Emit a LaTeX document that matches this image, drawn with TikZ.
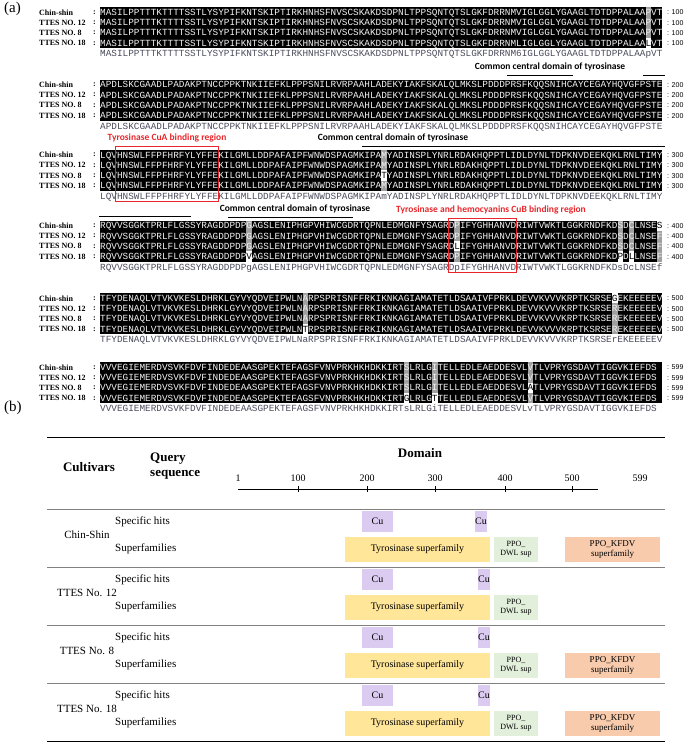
\documentclass[tikz,border=0pt]{standalone}
\usepackage{fontspec}
\setmainfont{Liberation Serif}
\newfontfamily\seqfont{Liberation Mono}
\newfontfamily\calfont{Carlito}
\newfontfamily\arfont{Liberation Sans}
\definecolor{cuviolet}{HTML}{DCCBF0}
\definecolor{tyryellow}{HTML}{FFE699}
\definecolor{dwlgreen}{HTML}{E2EFDA}
\definecolor{kfdvorange}{HTML}{F8CBAD}
\definecolor{conscol}{HTML}{4B4B5C}
\definecolor{shadegray}{HTML}{A0A0A0}
\definecolor{boxred}{HTML}{E8262B}

\newcommand{\seqw}{5.62}
% gray cell (conserved in 3 of 4), light letter
\newcommand{\gc}[1]{\makebox[0pt][l]{\textcolor{shadegray}{\rule[-2.15pt]{\seqw pt}{10.3pt}}}#1}
% white cell (odd residue), dark letter
\newcommand{\wc}[1]{\makebox[0pt][l]{\textcolor{white}{\rule[-2.15pt]{\seqw pt}{10.3pt}}}\textcolor{black}{#1}}

\tikzset{
  seqtxt/.style={font=\seqfont\fontsize{9.37}{10}\selectfont, inner sep=0pt, anchor=base west},
  namelbl/.style={font=\bfseries\fontsize{8}{9}\selectfont, inner sep=0pt, anchor=west},
  poslbl/.style={font=\arfont\fontsize{7}{8}\selectfont, inner sep=0pt, anchor=west},
  notelbl/.style={font=\calfont\bfseries\fontsize{9.5}{10}\selectfont, inner sep=0pt},
  redlbl/.style={notelbl, text=boxred},
  panellbl/.style={font=\fontsize{15}{16}\selectfont, inner sep=0pt, anchor=west},
  headlbl/.style={font=\bfseries\fontsize{13}{15}\selectfont, inner sep=0pt},
  rowlbl/.style={font=\fontsize{11}{12}\selectfont, inner sep=0pt},
  dombox/.style={inner sep=0pt, align=center, font=\fontsize{10}{11}\selectfont},
}

\begin{document}
\begin{tikzpicture}[x=1pt, y=-1pt]
    \useasboundingbox (0,0) rectangle (685,747);
    \node[panellbl] (pa) at (4,9) {(a)};

    % alignment blocks: top row y / end number / sequences
    \foreach \blk/\top/\stop/\sa/\sb/\sc/\sd/\cons in {
      1/12.3/100/MASILPPTTTKTTTTSSTLYSYPIFKNTSKIPTIRKHNHSFNVSCSKAKDSDPNLTPPSQNTQTSLGKFDRRNMVIGLGGLYGAAGLTDTDPPALAA\gc{P}VT/MASILPPTTTKTTTTSSTLYSYPIFKNTSKIPTIRKHNHSFNVSCSKAKDSDPNLTPPSQNTQTSLGKFDRRNMVIGLGGLYGAAGLTDTDPPALAA\gc{P}VT/MASILPPTTTKTTTTSSTLYSYPIFKNTSKIPTIRKHNHSFNVSCSKAKDSDPNLTPPSQNTQTSLGKFDRRNMVIGLGGLYGAAGLTDTDPPALAA\gc{P}VT/MASILPPTTTKTTTTSSTLYSYPIFKNTSKIPTIRKHNHSFNVSCSKAKDSDPNLTPPSQNTQTSLGKFDRRNMLIGLGGLYGAAGLTDTDPPALAA\wc{L}VT/MASILPPTTTKTTTTSSTLYSYPIFKNTSKIPTIRKHNHSFNVSCSKAKDSDPNLTPPSQNTQTSLGKFDRRNM6IGLGGLYGAAGLTDTDPPALAApVT,
      2/84.7/200/APDLSKCGAADLPADAKPTNCCPPKTNKIIEFKLPPPSNILRVRPAAHLADEKYIAKFSKALQLMKSLPDDDPRSFKQQSNIHCAYCEGAYHQVGFPSTE/APDLSKCGAADLPADAKPTNCCPPKTNKIIEFKLPPPSNILRVRPAAHLADEKYIAKFSKALQLMKSLPDDDPRSFKQQSNIHCAYCEGAYHQVGFPSTE/APDLSKCGAADLPADAKPTNCCPPKTNKIIEFKLPPPSNILRVRPAAHLADEKYIAKFSKALQLMKSLPDDDPRSFKQQSNIHCAYCEGAYHQVGFPSTE/APDLSKCGAADLPADAKPTNCCPPKTNKIIEFKLPPPSNILRVRPAAHLADEKYIAKFSKALQLMKSLPDDDPRSFKQQSNIHCAYCEGAYHQVGFPSTE/APDLSKCGAADLPADAKPTNCCPPKTNKIIEFKLPPPSNILRVRPAAHLADEKYIAKFSKALQLMKSLPDDDPRSFKQQSNIHCAYCEGAYHQVGFPSTE,
      3/155.0/300/LQVHNSWLFFPFHRFYLYFFEKILGMLLDDPAFAIPFWNWDSPAGMKIPA\gc{M}YADINSPLYNRLRDAKHQPPTLIDLDYNLTDPKNVDEEKQKLRNLTIMY/LQVHNSWLFFPFHRFYLYFFEKILGMLLDDPAFAIPFWNWDSPAGMKIPA\gc{M}YADINSPLYNRLRDAKHQPPTLIDLDYNLTDPKNVDEEKQKLRNLTIMY/LQVHNSWLFFPFHRFYLYFFEKILGMLLDDPAFAIPFWNWDSPAGMKIPA\wc{T}YADINSPLYNRLRDAKHQPPTLIDLDYNLTDPKNVDEEKQKLRNLTIMY/LQVHNSWLFFPFHRFYLYFFEKILGMLLDDPAFAIPFWNWDSPAGMKIPA\gc{M}YADINSPLYNRLRDAKHQPPTLIDLDYNLTDPKNVDEEKQKLRNLTIMY/LQVHNSWLFFPFHRFYLYFFEKILGMLLDDPAFAIPFWNWDSPAGMKIPAmYADINSPLYNRLRDAKHQPPTLIDLDYNLTDPKNVDEEKQKLRNLTIMY,
      4/225.7/400/RQVVSGGKTPRLFLGSSYRAGDDPDP\gc{G}AGSLENIPHGPVHIWCGDRTQPNLEDMGNFYSAGRD\gc{P}IFYGHHANVDRIWTVWKTLGGKRNDFKD\gc{S}D\gc{C}LNSE\wc{S}/RQVVSGGKTPRLFLGSSYRAGDDPDP\gc{G}AGSLENIPHGPVHIWCGDRTQPNLEDMGNFYSAGRD\gc{P}IFYGHHANVDRIWTVWKTLGGKRNDFKD\gc{S}D\gc{C}LNSE\gc{F}/RQVVSGGKTPRLFLGSSYRAGDDPDP\gc{G}AGSLENIPHGPVHIWCGDRTQPNLEDMGNFYSAGRD\wc{L}IFYGHHANVDRIWTVWKTLGGKRNDFKD\gc{S}D\gc{C}LNSE\gc{F}/RQVVSGGKTPRLFLGSSYRAGDDPDP\wc{V}AGSLENIPHGPVHIWCGDRTQPNLEDMGNFYSAGRD\gc{P}IFYGHHANVDRIWTVWKTLGGKRNDFKD\wc{P}D\wc{L}LNSE\gc{F}/RQVVSGGKTPRLFLGSSYRAGDDPDPgAGSLENIPHGPVHIWCGDRTQPNLEDMGNFYSAGRDpIFYGHHANVDRIWTVWKTLGGKRNDFKDsDcLNSEf,
      5/298.3/500/TFYDENAQLVTVKVKESLDHRKLGYVYQDVEIPWLN\gc{A}RPSPRISNFFRKIKNKAGIAMATETLDSAAIVFPRKLDEVVKVVVKRPTKSRSE\wc{G}EKEEEEEV/TFYDENAQLVTVKVKESLDHRKLGYVYQDVEIPWLN\gc{A}RPSPRISNFFRKIKNKAGIAMATETLDSAAIVFPRKLDEVVKVVVKRPTKSRSE\gc{R}EKEEEEEV/TFYDENAQLVTVKVKESLDHRKLGYVYQDVEIPWLN\gc{A}RPSPRISNFFRKIKNKAGIAMATETLDSAAIVFPRKLDEVVKVVVKRPTKSRSE\gc{R}EKEEEEEV/TFYDENAQLVTVKVKESLDHRKLGYVYQDVEIPWLN\wc{T}RPSPRISNFFRKIKNKAGIAMATETLDSAAIVFPRKLDEVVKVVVKRPTKSRSE\gc{R}EKEEEEEV/TFYDENAQLVTVKVKESLDHRKLGYVYQDVEIPWLNaRPSPRISNFFRKIKNKAGIAMATETLDSAAIVFPRKLDEVVKVVVKRPTKSRSErEKEEEEEV,
      6/367.3/599/VVVEGIEMERDVSVKFDVFINDEDEAASGPEKTEFAGSFVNVPRKHKHDKKIRT\gc{S}LRLG\gc{I}TELLEDLEAEDDESVL\gc{V}TLVPRYGSDAVTIGGVKIEFDS/VVVEGIEMERDVSVKFDVFINDEDEAASGPEKTEFAGSFVNVPRKHKHDKKIRT\gc{S}LRLG\gc{I}TELLEDLEAEDDESVL\gc{V}TLVPRYGSDAVTIGGVKIEFDS/VVVEGIEMERDVSVKFDVFINDEDEAASGPEKTEFAGSFVNVPRKHKHDKKIRT\gc{S}LRLG\gc{I}TELLEDLEAEDDESVL\wc{A}TLVPRYGSDAVTIGGVKIEFDS/VVVEGIEMERDVSVKFDVFINDEDEAASGPEKTEFAGSFVNVPRKHKHDKKIRT\wc{G}LRLG\wc{T}TELLEDLEAEDDESVL\gc{V}TLVPRYGSDAVTIGGVKIEFDS/VVVEGIEMERDVSVKFDVFINDEDEAASGPEKTEFAGSFVNVPRKHKHDKKIRTsLRLGiTELLEDLEAEDDESVLvTLVPRYGSDAVTIGGVKIEFDS} {
        \foreach \r/\nm/\s in {0/Chin-shin/\sa, 1/TTES NO. 12/\sb, 2/TTES NO. 8/\sc, 3/TTES NO. 18/\sd} {
            \pgfmathsetmacro{\ry}{\top+\r*10.3}
            \fill[black] (100,{\ry-5.15}) rectangle ({100+100*\seqw},{\ry+5.15});
            \node[seqtxt, text=gray!10] (s\blk r\r) at (100,{\ry+3}) {\s};
            \node[namelbl] (n\blk r\r) at (39,\ry) {\nm};
            \node[namelbl, anchor=center] (c\blk r\r) at (94.5,\ry) {:};
            \node[poslbl] (e\blk r\r) at (667,\ry) {: \stop};
        }
        \node[seqtxt, text=conscol] (cons\blk) at (100,{\top+41.5+3}) {\cons};
    }

    % domain notes
    \node[notelbl] (dom1) at (550,67) {Common central domain of tyrosinase};
    \draw[semithick] (507,75.5) -- (573,75.5);
    \draw[semithick] (643,75.5) -- (665,75.5);
    \node[redlbl] (cua) at (167,138) {Tyrosinase CuA binding region};
    \node[notelbl] (dom2) at (393,138) {Common central domain of tyrosinase};
    \draw[semithick] (362,146) -- (665,146);
    \draw[semithick] (99,216) -- (191,216);
    \node[notelbl] (dom3) at (295,209) {Common central domain of tyrosinase};
    \draw[semithick] (228,217) -- (353,217);
    \node[redlbl] (cub) at (491,210) {Tyrosinase and hemocyanins CuB binding region};
    \draw[boxred, semithick] (115,146) rectangle (218,201);
    \draw[boxred, semithick] (448.4,218) rectangle (515.9,272);

    % (b) domain table
    \node[panellbl] (pb) at (4,408) {(b)};
    \draw[thick] (47,437) -- (665,437);
    \node[headlbl] (hcult) at (89,467) {Cultivars};
    \node[headlbl, align=left, anchor=west] (hquery) at (150,466) {Query\\sequence};
    \node[headlbl] (hdom) at (420,453) {Domain};
    \draw (238,489) -- (598,489);
    \foreach \x/\lab in {238/1, 298/100, 367/200, 435/300, 505/400, 572/500, 640/599} {
        \node[font=\fontsize{10}{11}\selectfont, inner sep=0pt] (ax\lab) at (\x,478) {\lab};
    }
    \foreach \x in {298, 367, 435, 505, 572} {
        \draw (\x,486) -- (\x,492);
    }
    \draw[thin, gray] (47,509) -- (665,509);

    \foreach \i/\cv/\top/\kfdv/\cux in {1/Chin-Shin/511/1/475, 2/TTES No. 12/569/0/478, 3/TTES No. 8/627/1/478, 4/TTES No. 18/685/1/478} {
        \node[rowlbl] (cv\i) at (87,{\top+24}) {\cv};
        \node[rowlbl, anchor=west] (sh\i) at (115,{\top+11}) {Specific hits};
        \node[rowlbl, anchor=west] (sf\i) at (115,{\top+38}) {Superfamilies};
        \node[dombox, fill=cuviolet, minimum width=31pt, minimum height=21pt] (cua\i) at (377.5,{\top+10.5}) {Cu};
        \node[dombox, fill=cuviolet, minimum width=12pt, minimum height=21pt] (cub\i) at ({\cux+6},{\top+10.5}) {Cu};
        \node[dombox, fill=tyryellow, minimum width=145pt, minimum height=25pt] (tyr\i) at (417.5,{\top+38.5}) {Tyrosinase superfamily};
        \node[dombox, fill=dwlgreen, minimum width=44pt, minimum height=25pt, font=\fontsize{8}{9}\selectfont] (dwl\i) at (516,{\top+38.5}) {PPO\_\\DWL sup};
        \ifnum\kfdv=1
            \node[dombox, fill=kfdvorange, minimum width=95pt, minimum height=25pt, font=\fontsize{9}{10}\selectfont] (kfdv\i) at (612.5,{\top+38.5}) {PPO\_KFDV\\superfamily};
        \fi
        \draw[thin, gray] (47,{\top+56}) -- (665,{\top+56});
    }
    \draw[thick] (47,741) -- (665,741);
\end{tikzpicture}
\end{document}
